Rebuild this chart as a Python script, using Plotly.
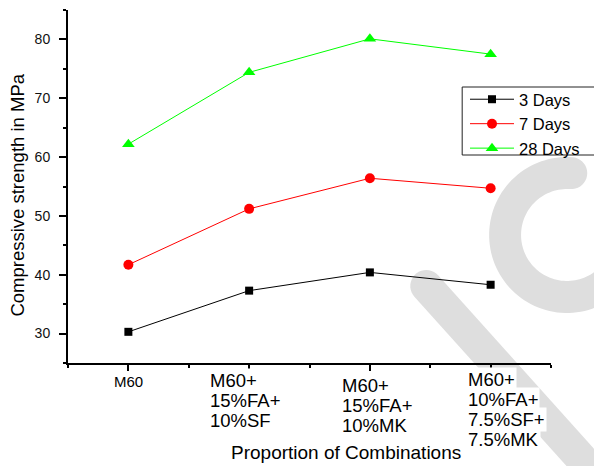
import numpy as np
import plotly.graph_objects as go

# ---- data ----
categories = ["M60", "M60+\n15%FA+\n10%SF", "M60+\n15%FA+\n10%MK", "M60+\n10%FA+\n7.5%SF+\n7.5%MK"]
series_names = ["3 Days", "7 Days", "28 Days"]
days_3 = [30.3, 37.3, 40.4, 38.3]
days_7 = [41.7, 51.2, 56.4, 54.7]
days_28 = [62.2, 74.4, 80.1, 77.5]
y_ticks = [30, 40, 50, 60, 70, 80]
x_title = "Proportion of Combinations"
y_title = "Compressive strength in MPa"

# ---- style ----
W, H = 594, 466
L, R, T, B = 68, 552, 10, 363
FONT = "Liberation Sans, Arial, sans-serif"
colors = ["#000000", "#ff0000", "#00ff00"]
symbols = ["square", "circle", "triangle-up"]
msizes = [8, 10, 11]

xi = list(range(len(categories)))
fig = go.Figure()
for name, vals, c, s, ms in zip(series_names, [days_3, days_7, days_28], colors, symbols, msizes):
    fig.add_trace(go.Scatter(x=xi, y=vals, name=name, mode="lines+markers",
                             line=dict(color=c, width=1),
                             marker=dict(symbol=s, size=ms, color=c, line=dict(width=0))))

def px2p(px, py):
    return (px - L) / (R - L), (B - py) / (B - T)

def path_from(pts):
    p = [px2p(x, y) for x, y in pts]
    return "M " + " L ".join(f"{a:.5f},{b:.5f}" for a, b in p) + " Z"

# watermark ring (C shape)
cx, cy, rm, hw = 568, 235, 62, 16
th0, th1 = np.deg2rad(-86), np.deg2rad(-315)
ths = np.linspace(th0, th1, 80)
outer = [(cx + (rm + hw) * np.cos(t), cy + (rm + hw) * np.sin(t)) for t in ths]
inner = [(cx + (rm - hw) * np.cos(t), cy + (rm - hw) * np.sin(t)) for t in ths[::-1]]
u = np.array([np.cos(th0), np.sin(th0)])
tg = np.array([-np.sin(th0), np.cos(th0)])
C = np.array([cx, cy]) + rm * u
cap = [tuple(C + hw * (np.cos(p) * (-u) + np.sin(p) * tg)) for p in np.linspace(0, np.pi, 20)]
ring_path = path_from(outer + inner + cap)

# watermark band
P0 = np.array([427, 286])
ang = np.deg2rad(48)
d = np.array([np.cos(ang), np.sin(ang)])
n = np.array([-np.sin(ang), np.cos(ang)])
P1 = P0 + 330 * d
band = [tuple(P0 + hw * n), tuple(P1 + hw * n), tuple(P1 - hw * n), tuple(P0 - hw * n)]
band += [tuple(P0 + hw * (np.cos(p) * (-n) + np.sin(p) * (-d))) for p in np.linspace(0, np.pi, 20)]
band_path = path_from(band)

wm = "#dedede"
bx0, by0 = px2p(463, 87)
bx1, by1 = px2p(605, 155)
shapes = [dict(type="path", path=ring_path, xref="paper", yref="paper", fillcolor=wm, line=dict(width=0), layer="below"),
          dict(type="path", path=band_path, xref="paper", yref="paper", fillcolor=wm, line=dict(width=0), layer="below"),
          dict(type="rect", x0=bx0, y0=by0, x1=bx1, y1=by1, xref="paper", yref="paper",
               fillcolor="white", line=dict(color="#222222", width=1), layer="above")]

# x tick labels as annotations (left aligned blocks)
lbl_xshift = [0, -41, -30, -25]
lbl_first = [18, 17, 22, 16]
lbl_step = 20.3
annotations = []
for i, cat in enumerate(categories):
    lines = cat.split("\n")
    for k, line in enumerate(lines):
        annotations.append(dict(
            x=i, xref="x", y=0, yref="paper",
            xanchor="center" if i == 0 else "left", yanchor="middle",
            xshift=lbl_xshift[i], yshift=-(lbl_first[i] + k * lbl_step),
            text=line, showarrow=False, bgcolor="white", borderpad=1,
            font=dict(family=FONT, size=15 if i == 0 else 18.5, color="black")))

tx, ty = px2p(346.5, 452)
annotations.append(dict(x=tx, y=ty, xref="paper", yref="paper", text=x_title, showarrow=False,
                        xanchor="center", yanchor="middle", font=dict(family=FONT, size=19, color="black")))
yx, yy = px2p(16.5, 195)
annotations.append(dict(x=yx, y=yy, xref="paper", yref="paper", text=y_title, showarrow=False, textangle=-90,
                        xanchor="center", yanchor="middle", font=dict(family=FONT, size=18.5, color="black")))

lx, ly = px2p(465, 82)
fig.update_layout(
    width=W, height=H,
    margin=dict(l=L, r=W - R, t=T, b=H - B),
    paper_bgcolor="white", plot_bgcolor="white",
    font=dict(family=FONT, size=14, color="black"),
    showlegend=True,
    legend=dict(x=lx, y=ly, xanchor="left", yanchor="top", bgcolor="rgba(0,0,0,0)",
                borderwidth=0, font=dict(family=FONT, size=16.5, color="black"),
                tracegroupgap=0, itemsizing="trace", itemwidth=44),
    shapes=shapes, annotations=annotations,
    xaxis=dict(range=[-0.5, 3.5], tickvals=xi, showticklabels=False, showgrid=False, zeroline=False,
               showline=True, linecolor="black", linewidth=2, ticks="outside", ticklen=6, tickwidth=1.5,
               tickcolor="black",
               minor=dict(dtick=0.5, tick0=-0.5, ticks="outside", ticklen=3, tickwidth=1.5, tickcolor="black")),
    yaxis=dict(range=[25, 85], tickvals=y_ticks, showgrid=False, zeroline=False,
               showline=True, linecolor="black", linewidth=2, ticks="outside", ticklen=7, tickwidth=1.5,
               tickcolor="black", ticklabelstandoff=6, tickfont=dict(family=FONT, size=14, color="#111111"),
               minor=dict(dtick=5, tick0=25, ticks="outside", ticklen=3, tickwidth=1.5, tickcolor="black")),
)

fig.write_html("out.html")
